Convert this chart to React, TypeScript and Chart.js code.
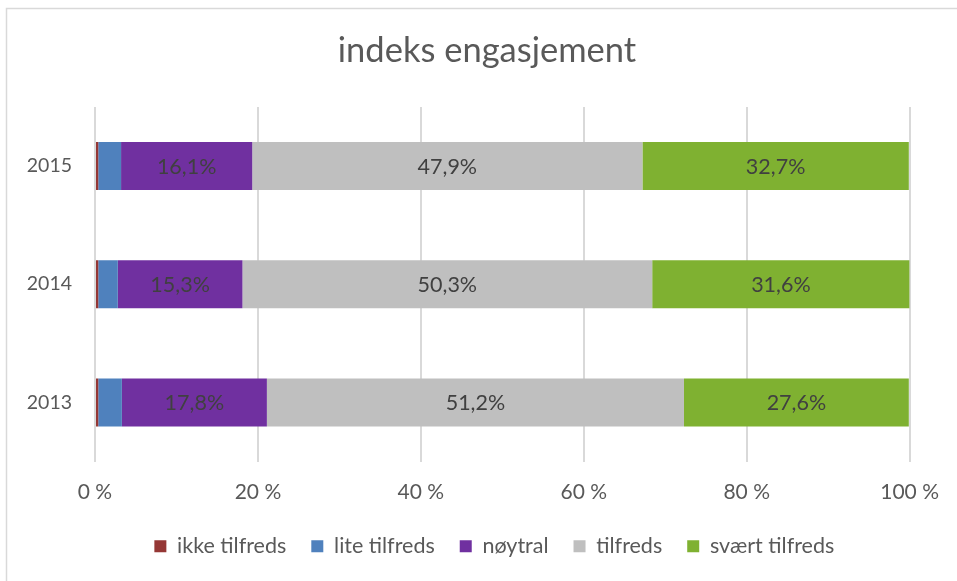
import React, { useEffect, useRef } from "react";
import { Chart, registerables } from "chart.js";

Chart.register(...registerables);

const categories = ["2015", "2014", "2013"];
const seriesNames = ["ikke tilfreds", "lite tilfreds", "nøytral", "tilfreds", "svært tilfreds"];
const ikkeTilfreds = [0.4, 0.4, 0.4];
const liteTilfreds = [2.8, 2.4, 2.9];
const noytral = [16.1, 15.3, 17.8];
const tilfreds = [47.9, 50.3, 51.2];
const svaertTilfreds = [32.7, 31.6, 27.6];
const seriesColors = ["#953735", "#4f81bd", "#7030a0", "#bfbfbf", "#7fb131"];
const labelledSeries = [2, 3, 4];
const xTicks = [0, 20, 40, 60, 80, 100];

const FONT = "Lato, 'Open Sans', sans-serif";

const framePlugin = {
  id: "frame",
  beforeDraw(chart: any) {
    const { ctx, width, height } = chart;
    ctx.save();
    ctx.fillStyle = "#ffffff";
    ctx.fillRect(0, 0, width, height);
    ctx.strokeStyle = "#d9d9d9";
    ctx.lineWidth = 1.5;
    ctx.beginPath();
    ctx.moveTo(6.5, height);
    ctx.lineTo(6.5, 8.5);
    ctx.lineTo(width, 8.5);
    ctx.stroke();
    ctx.restore();
  },
};

const shiftPlugin = {
  id: "shiftBlocks",
  afterLayout(chart: any) {
    const t = chart.titleBlock;
    if (t) {
      t.left = 17;
      t.right = 957;
      t.width = 940;
    }
    const l = chart.legend;
    if (l) {
      l.left -= 8;
      l.right -= 8;
    }
  },
};

const dataLabelPlugin = {
  id: "dataLabels",
  afterDatasetsDraw(chart: any) {
    const { ctx } = chart;
    ctx.save();
    ctx.font = `21.5px ${FONT}`;
    ctx.fillStyle = "#404040";
    ctx.textAlign = "center";
    ctx.textBaseline = "middle";
    labelledSeries.forEach((di) => {
      const meta = chart.getDatasetMeta(di);
      const data = chart.data.datasets[di].data as number[];
      meta.data.forEach((el: any, i: number) => {
        const txt = data[i].toFixed(1).replace(".", ",") + "%";
        ctx.fillText(txt, (el.x + el.base) / 2, el.y + 1);
      });
    });
    ctx.restore();
  },
};

export default function App() {
  const ref = useRef<HTMLCanvasElement>(null);
  useEffect(() => {
    if (!ref.current) return;
    const values = [ikkeTilfreds, liteTilfreds, noytral, tilfreds, svaertTilfreds];
    const chart = new Chart(ref.current, {
      type: "bar",
      data: {
        labels: categories,
        datasets: seriesNames.map((name, i) => ({
          label: name,
          data: values[i],
          backgroundColor: seriesColors[i],
          borderWidth: 0,
          categoryPercentage: 1,
          barPercentage: 0.406,
        })),
      },
      options: {
        indexAxis: "y",
        animation: false,
        responsive: true,
        maintainAspectRatio: false,
        layout: { padding: { left: 15, right: 46, top: 0, bottom: 14 } },
        plugins: {
          title: {
            display: true,
            fullSize: false,
            text: "indeks engasjement",
            color: "#595959",
            font: { family: FONT, size: 34.5, weight: "normal" },
            padding: { top: 30, bottom: 35.5 },
          },
          legend: {
            position: "bottom",
            fullSize: false,
            labels: {
              boxWidth: 12,
              boxHeight: 12,
              padding: 25,
              color: "#595959",
              font: { family: FONT, size: 21.5 },
            },
          },
          tooltip: { enabled: false },
        },
        scales: {
          x: {
            stacked: true,
            min: 0,
            max: 100,
            border: { display: false },
            grid: { color: "#d9d9d9", lineWidth: 2, drawTicks: false },
            afterBuildTicks: (scale: any) => {
              scale.ticks = xTicks.map((v) => ({ value: v }));
            },
            afterFit: (scale: any) => {
              scale.height = 49;
            },
            ticks: {
              padding: 18,
              color: "#595959",
              font: { family: FONT, size: 21 },
              callback: (v: any) => `${v} %`,
            },
          },
          y: {
            stacked: true,
            border: { display: false },
            grid: { display: false, drawTicks: false },
            afterFit: (scale: any) => {
              scale.width = 80;
            },
            ticks: {
              padding: 23,
              color: "#595959",
              font: { family: FONT, size: 19.5 },
            },
          },
        },
      },
      plugins: [framePlugin, shiftPlugin, dataLabelPlugin],
    });
    return () => chart.destroy();
  }, []);
  return (
    <div style={{ position: "fixed", left: 0, top: 0, width: 957, height: 581 }}>
      <canvas ref={ref} />
    </div>
  );
}
